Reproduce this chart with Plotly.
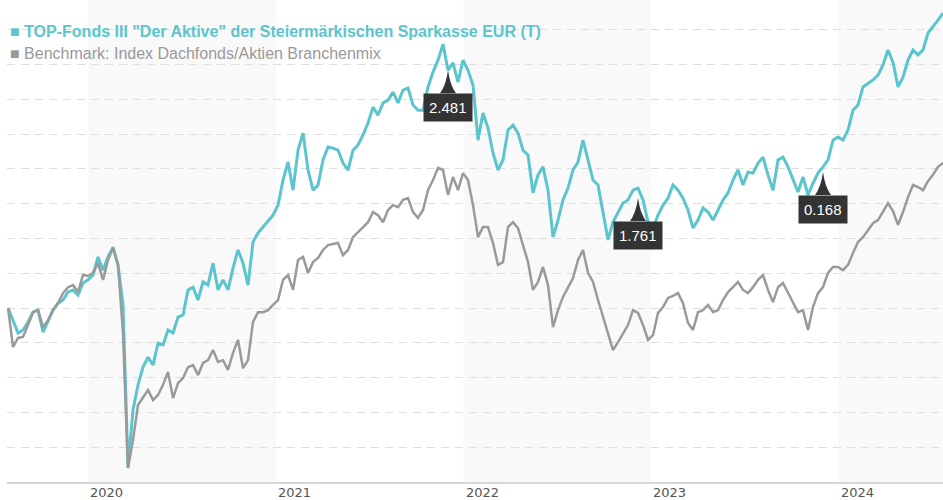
import pandas as pd
import plotly.graph_objects as go

start_date = "2019-07-29"
end_date = "2024-07-22"

fund = [100.0, 96.5, 92.8, 93.7, 96.0, 98.8, 99.4, 93.1, 96.5, 99.4,
        101.4, 102.3, 104.6, 105.2, 103.7, 107.2, 108.1, 109.5, 114.7, 110.9,
        114.7, 117.5, 112.4, 100.9, 54.0, 70.7, 77.9, 83.0, 85.9, 83.6,
        89.9, 89.4, 93.7, 92.8, 97.4, 98.0, 105.2, 106.0, 102.3, 107.5,
        106.6, 112.9, 105.2, 108.1, 105.2, 111.5, 116.7, 112.9, 106.6, 119.0,
        121.6, 123.3, 125.3, 126.7, 129.6, 136.8, 142.0, 133.9, 145.4, 150.3,
        139.7, 133.9, 135.4, 142.6, 146.3, 146.0, 145.4, 141.7, 139.7, 145.4,
        146.9, 149.8, 153.2, 157.8, 155.5, 159.0, 159.8, 162.1, 159.0, 162.7,
        163.3, 158.4, 156.9, 156.9, 163.6, 167.9, 171.3, 175.9, 168.4, 170.5,
        165.0, 171.3, 168.4, 164.1, 148.3, 156.1, 151.8, 144.6, 139.7, 142.6,
        151.2, 152.6, 150.3, 145.4, 144.0, 133.1, 138.3, 140.6, 133.9, 120.4,
        125.3, 131.1, 134.5, 139.7, 142.0, 148.3, 142.6, 136.8, 135.4, 127.3,
        119.6, 124.7, 127.6, 130.2, 131.1, 133.9, 134.5, 131.1, 124.7, 123.0,
        126.7, 129.6, 131.6, 135.4, 133.9, 131.6, 128.2, 123.0, 125.3, 128.8,
        127.6, 125.3, 128.2, 131.1, 133.1, 136.8, 139.7, 135.4, 139.1, 138.8,
        141.7, 143.4, 138.3, 133.9, 142.6, 143.4, 140.6, 136.8, 133.4, 137.7,
        132.5, 135.9, 138.8, 140.6, 142.6, 148.3, 149.2, 148.3, 151.2, 156.9,
        158.4, 163.6, 164.7, 165.6, 167.0, 169.9, 174.2, 170.7, 163.6, 166.4,
        171.3, 174.2, 172.8, 174.2, 179.1, 180.8, 182.8, 184.8]

bench = [100.0, 88.8, 91.4, 91.7, 95.1, 98.8, 99.4, 94.5, 96.5, 99.4,
         101.4, 104.3, 106.0, 106.6, 104.6, 109.5, 109.2, 110.1, 112.9, 108.1,
         113.8, 117.3, 112.4, 92.8, 54.0, 62.0, 72.1, 74.1, 76.4, 73.5,
         75.0, 77.9, 81.6, 74.1, 78.4, 79.9, 83.0, 83.6, 80.7, 84.2,
         85.0, 87.9, 84.5, 85.0, 82.2, 87.1, 90.8, 82.7, 85.0, 96.0,
         98.8, 98.8, 99.4, 100.9, 102.3, 108.1, 109.5, 105.2, 113.8, 114.7,
         110.1, 113.2, 114.4, 116.7, 118.1, 118.4, 118.7, 115.2, 116.7, 120.4,
         121.9, 123.3, 124.7, 127.6, 126.7, 124.7, 128.2, 129.6, 129.0, 131.1,
         131.6, 127.6, 125.9, 128.2, 133.9, 136.8, 140.3, 139.7, 132.5, 137.7,
         133.9, 138.8, 136.8, 129.6, 120.4, 123.3, 123.3, 118.7, 112.4, 113.2,
         123.3, 124.7, 123.0, 118.1, 113.2, 105.2, 107.5, 111.8, 106.6, 94.5,
         99.4, 103.2, 106.0, 108.6, 113.8, 116.7, 110.1, 107.5, 102.3, 97.4,
         92.2, 87.9, 90.2, 92.8, 95.1, 99.4, 98.6, 95.1, 90.8, 92.2,
         98.6, 100.3, 102.9, 103.5, 104.3, 101.4, 95.7, 93.7, 98.8, 99.4,
         100.9, 98.8, 99.4, 102.3, 104.6, 106.0, 107.5, 105.2, 104.3, 106.0,
         108.1, 109.5, 105.2, 101.7, 106.0, 107.2, 104.3, 101.4, 98.8, 99.4,
         93.7, 100.3, 104.3, 106.0, 110.1, 111.8, 111.8, 110.9, 112.4, 115.8,
         119.0, 120.4, 122.4, 124.4, 125.3, 127.6, 130.2, 127.9, 123.9, 127.6,
         131.9, 135.4, 134.8, 133.9, 136.5, 138.3, 140.6, 141.7]

fund_name = 'TOP-Fonds III "Der Aktive" der Steiermärkischen Sparkasse EUR (T)'
bench_name = "Benchmark: Index Dachfonds/Aktien Branchenmix"
year_labels = ["2020", "2021", "2022", "2023", "2024"]
shaded_years = ["2020", "2022", "2024"]
callout_labels = ["2.481", "1.761", "0.168"]
callout_index = [88, 126, 163]
callout_shift_px = [0, -10, -5]

dates = pd.date_range(start_date, end_date, periods=len(fund))

TEAL = "#5bc5cd"
GRAY = "#9a9a9a"
DARK = "#333333"
FONT = "Liberation Sans, Arial, sans-serif"

fig = go.Figure()
fig.add_trace(go.Scatter(x=dates, y=fund, mode="lines", name=fund_name,
                         line=dict(color=TEAL, width=3), hoverinfo="skip"))
fig.add_trace(go.Scatter(x=dates, y=bench, mode="lines", name=bench_name,
                         line=dict(color=GRAY, width=2.5), hoverinfo="skip"))

for yr in shaded_years:
    fig.add_vrect(x0=f"{yr}-01-01", x1=f"{int(yr) + 1}-01-01",
                  fillcolor="#f9f9f9", line_width=0, layer="below")

for yr in year_labels:
    fig.add_annotation(x=f"{yr}-01-01", y=0, xref="x", yref="paper",
                       text=yr, showarrow=False, xanchor="left", yanchor="top",
                       xshift=0, yshift=-1,
                       font=dict(family="DejaVu Sans", size=13, color="#555555"))

# legend as text
fig.add_annotation(x=0, y=1, xref="paper", yref="paper", xanchor="left", yanchor="middle",
                   xshift=1, yshift=-31, showarrow=False,
                   text=f"<span style='color:{TEAL}'>■</span> <b>{fund_name}</b>",
                   font=dict(family=FONT, size=16, color=TEAL))
fig.add_annotation(x=0, y=1, xref="paper", yref="paper", xanchor="left", yanchor="middle",
                   xshift=1, yshift=-53, showarrow=False,
                   text=f"<span style='color:{GRAY}'>■</span> {bench_name}",
                   font=dict(family=FONT, size=16, color="#999999"))

for lab, idx, s in zip(callout_labels, callout_index, callout_shift_px):
    xd = dates[idx]
    yv = fund[idx]
    h = 23
    path = (f"M0,{s} Q-2,{s - 15} -8,{s - h} L8,{s - h} Q2,{s - 15} 0,{s} Z")
    fig.add_shape(type="path", xref="x", yref="y", xsizemode="pixel", ysizemode="pixel",
                  xanchor=xd, yanchor=yv, path=path, fillcolor=DARK, line=dict(width=0))
    fig.add_annotation(x=xd, y=yv, text=lab, showarrow=False, xanchor="center", yanchor="top",
                       yshift=s - h, bgcolor=DARK, borderpad=5,
                       font=dict(family=FONT, size=15, color="white"))

fig.update_layout(
    width=943, height=500,
    margin=dict(l=7, r=0, t=0, b=18),
    paper_bgcolor="white", plot_bgcolor="white",
    showlegend=False, hovermode=False,
    xaxis=dict(type="date", range=["2019-07-27", "2024-07-22"], showgrid=False,
               showticklabels=False, ticks="", zeroline=False,
               showline=True, linecolor="#d6d6d6", linewidth=2),
    yaxis=dict(range=[49.96, 188.6], tick0=50, dtick=10, showticklabels=False,
               ticks="", zeroline=False, showline=False, showgrid=True,
               gridcolor="#dddddd", griddash="8px,6px", gridwidth=1),
)

fig.write_html("out.html")
